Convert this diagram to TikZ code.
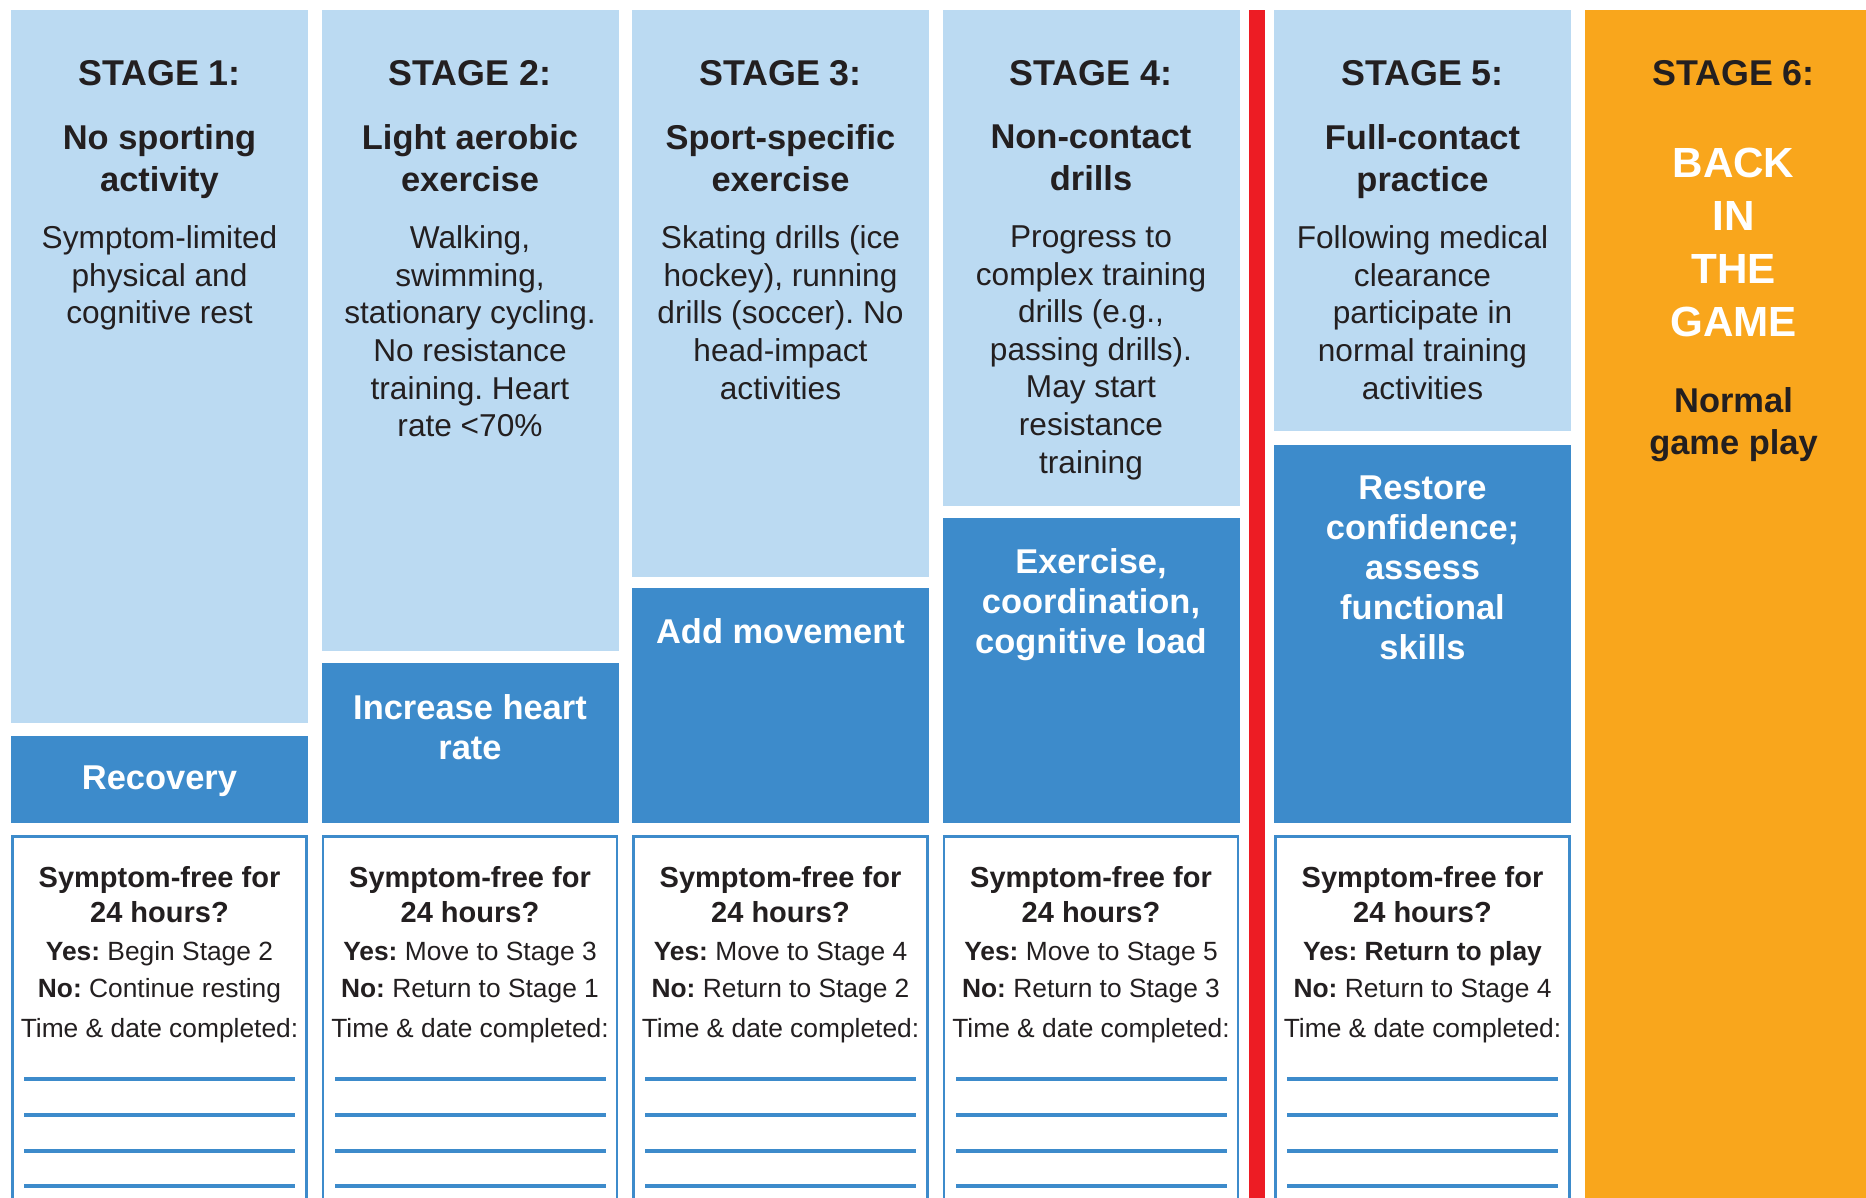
\documentclass[tikz,border=0pt]{standalone}
\usepackage{fontspec}
\setmainfont{Liberation Sans}
\frenchspacing
\definecolor{paleblue}{HTML}{BBDAF2}
\definecolor{stepblue}{HTML}{3D8BCB}
\definecolor{gameorange}{HTML}{F9A61C}
\definecolor{stopred}{HTML}{ED1C24}
\definecolor{ink}{HTML}{231F20}

\begin{document}
\begin{tikzpicture}[x=0.1mm,y=-0.1mm,
  stagetitle/.style={anchor=north,align=center,inner sep=0pt,text=ink,font=\bfseries\fontsize{10.2}{12}\selectfont},
  stagename/.style={anchor=north,align=center,inner sep=0pt,text=ink,font=\bfseries\fontsize{9.8}{11.95}\selectfont},
  stagetext/.style={anchor=north,align=center,inner sep=0pt,text=ink,font=\fontsize{9}{10.7}\selectfont},
  stageaim/.style={anchor=north,align=center,inner sep=0pt,text=white,font=\bfseries\fontsize{9.8}{11.4}\selectfont},
  backtext/.style={anchor=north,align=center,inner sep=0pt,text=white,font=\bfseries\fontsize{12}{15.1}\selectfont},
  checkhead/.style={anchor=north,align=center,inner sep=0pt,text=ink,font=\bfseries\fontsize{8.25}{10}\selectfont},
  checktext/.style={anchor=north,align=center,inner sep=0pt,text=ink,font=\fontsize{7.5}{10.5}\selectfont},
  formbox/.style={draw=stepblue,line width=0.8pt,fill=white},
  formline/.style={draw=stepblue,line width=1.05pt}]
\useasboundingbox (0,0) rectangle (1866,1198);
\clip (0,0) rectangle (1866,1198);
% stage columns
\fill [paleblue] (11,10) rectangle (308,723);
\fill [stepblue] (11,736) rectangle (308,823);
\draw [formbox] (12.5,836.5) rectangle (306.5,1220);
\fill [paleblue] (321.5,10) rectangle (618.5,651);
\fill [stepblue] (321.5,663) rectangle (618.5,823);
\draw [formbox] (323,836.5) rectangle (617,1220);
\fill [paleblue] (632,10) rectangle (929,577);
\fill [stepblue] (632,588) rectangle (929,823);
\draw [formbox] (633.5,836.5) rectangle (927.5,1220);
\fill [paleblue] (942.5,10) rectangle (1239.5,506);
\fill [stepblue] (942.5,518) rectangle (1239.5,823);
\draw [formbox] (944,836.5) rectangle (1238,1220);
\fill [stopred] (1249,10) rectangle (1265,1220);
\fill [paleblue] (1274,10) rectangle (1571,431);
\fill [stepblue] (1274,445) rectangle (1571,823);
\draw [formbox] (1275.5,836.5) rectangle (1569.5,1220);
\fill [gameorange] (1585,10) rectangle (1882,1220);
% lines to fill in
\draw [formline] (24,1079) -- (295,1079) (24,1115) -- (295,1115) (24,1151) -- (295,1151) (24,1186) -- (295,1186);
\draw [formline] (335,1079) -- (606,1079) (335,1115) -- (606,1115) (335,1151) -- (606,1151) (335,1186) -- (606,1186);
\draw [formline] (645,1079) -- (916,1079) (645,1115) -- (916,1115) (645,1151) -- (916,1151) (645,1186) -- (916,1186);
\draw [formline] (956,1079) -- (1227,1079) (956,1115) -- (1227,1115) (956,1151) -- (1227,1151) (956,1186) -- (1227,1186);
\draw [formline] (1287,1079) -- (1558,1079) (1287,1115) -- (1558,1115) (1287,1151) -- (1558,1151) (1287,1186) -- (1558,1186);
% stage 1
\node (stage1)  at (159.5,60)  [stagetitle] {STAGE 1:};
\node (name1)   at (159.5,124) [stagename]  {No sporting\\activity};
\node (todo1)   at (159.5,225) [stagetext]  {Symptom-limited\\physical and\\cognitive rest};
\node (aim1)    at (159.5,765) [stageaim]   {Recovery};
\node (ask1)    at (159.5,866) [checkhead]  {Symptom-free for\\24 hours?};
\node (answer1) at (159.5,941) [checktext]  {\textbf{Yes:} Begin Stage 2\\\textbf{No:} Continue resting\\[0.9pt]Time \& date completed:};
% stage 2
\node (stage2)  at (470,60)  [stagetitle] {STAGE 2:};
\node (name2)   at (470,124) [stagename]  {Light aerobic\\exercise};
\node (todo2)   at (470,225) [stagetext]  {Walking,\\swimming,\\stationary cycling.\\No resistance\\training. Heart\\rate <70\%};
\node (aim2)    at (470,694) [stageaim]   {Increase heart\\rate};
\node (ask2)    at (470,866) [checkhead]  {Symptom-free for\\24 hours?};
\node (answer2) at (470,941) [checktext]  {\textbf{Yes:} Move to Stage 3\\\textbf{No:} Return to Stage 1\\[0.9pt]Time \& date completed:};
% stage 3
\node (stage3)  at (780.5,60)  [stagetitle] {STAGE 3:};
\node (name3)   at (780.5,124) [stagename]  {Sport-specific\\exercise};
\node (todo3)   at (780.5,225) [stagetext]  {Skating drills (ice\\hockey), running\\drills (soccer). No\\head-impact\\activities};
\node (aim3)    at (780.5,618) [stageaim]   {Add movement};
\node (ask3)    at (780.5,866) [checkhead]  {Symptom-free for\\24 hours?};
\node (answer3) at (780.5,941) [checktext]  {\textbf{Yes:} Move to Stage 4\\\textbf{No:} Return to Stage 2\\[0.9pt]Time \& date completed:};
% stage 4
\node (stage4)  at (1091,60)  [stagetitle] {STAGE 4:};
\node (name4)   at (1091,124) [stagename]  {Non-contact\\drills};
\node (todo4)   at (1091,225) [stagetext]  {Progress to\\complex training\\drills (e.g.,\\passing drills).\\May start\\resistance\\training};
\node (aim4)    at (1091,548) [stageaim]   {Exercise,\\coordination,\\cognitive load};
\node (ask4)    at (1091,866) [checkhead]  {Symptom-free for\\24 hours?};
\node (answer4) at (1091,941) [checktext]  {\textbf{Yes:} Move to Stage 5\\\textbf{No:} Return to Stage 3\\[0.9pt]Time \& date completed:};
% stage 5
\node (stage5)  at (1422.5,60)  [stagetitle] {STAGE 5:};
\node (name5)   at (1422.5,124) [stagename]  {Full-contact\\practice};
\node (todo5)   at (1422.5,225) [stagetext]  {Following medical\\clearance\\participate in\\normal training\\activities};
\node (aim5)    at (1422.5,475) [stageaim]   {Restore\\confidence;\\assess\\functional\\skills};
\node (ask5)    at (1422.5,866) [checkhead]  {Symptom-free for\\24 hours?};
\node (answer5) at (1422.5,941) [checktext]  {\textbf{Yes: Return to play}\\\textbf{No:} Return to Stage 4\\[0.9pt]Time \& date completed:};
% stage 6
\node (stage6)  at (1733.5,60)  [stagetitle] {STAGE 6:};
\node (back6)   at (1733.5,147) [backtext]   {BACK\\IN\\THE\\GAME};
\node (play6)   at (1733.5,387) [stagename]  {Normal\\game play};
\end{tikzpicture}
\end{document}
